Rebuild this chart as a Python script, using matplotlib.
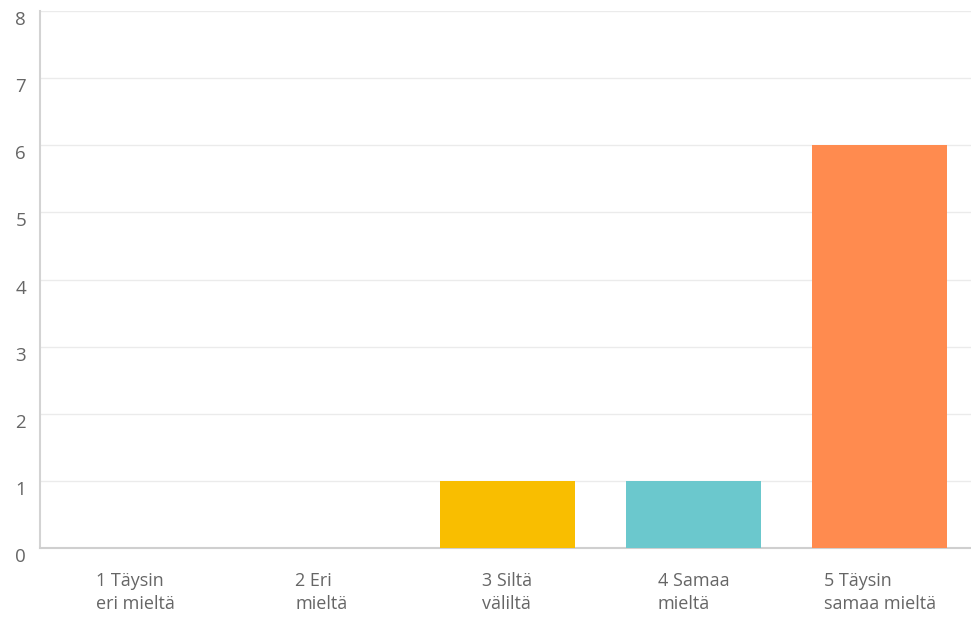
import matplotlib.pyplot as plt
import matplotlib.transforms as mtransforms

# survey answers (Likert 1-5)
categories = ["1 Täysin\neri mieltä", "2 Eri\nmieltä", "3 Siltä\nväliltä",
              "4 Samaa\nmieltä", "5 Täysin\nsamaa mieltä"]
counts = [0, 0, 1, 1, 6]
colors = ["#00BF6F", "#507CB6", "#F9BE00", "#6BC8CD", "#FF8B4F"]
yticks = [0, 1, 2, 3, 4, 5, 6, 7, 8]

plt.rcParams['font.family'] = ['Open Sans', 'DejaVu Sans']

fig = plt.figure(figsize=(9.71, 6.19), dpi=100)
ax = fig.add_axes([0.0412, 0.1147, 0.9588, 0.8675])

x = list(range(len(categories)))
ax.bar(x, counts, width=0.723, color=colors, zorder=3)

ax.set_xlim(-0.51, 4.49)
ax.set_ylim(0, 8)
ax.set_yticks(yticks)
ax.set_xticks(x)
ax.set_xticklabels(categories, fontsize=13, color="#666666",
                   multialignment="left", linespacing=1.4)
ax.tick_params(axis="x", length=0, pad=17)
ax.tick_params(axis="y", length=0, pad=10, labelsize=13.5, labelcolor="#666666")

# y labels sit a little below their gridlines
offset = mtransforms.ScaledTranslation(0, -7 / 100, fig.dpi_scale_trans)
for lab in ax.get_yticklabels():
    lab.set_transform(lab.get_transform() + offset)

ax.grid(axis="y", color="#ebebeb", linewidth=1, zorder=0)
for s in ["top", "right"]:
    ax.spines[s].set_visible(False)
ax.spines["left"].set_color("#d3d3d3")
ax.spines["left"].set_linewidth(1.5)
ax.spines["bottom"].set_color("#cfcfcf")
ax.spines["bottom"].set_linewidth(1.5)

fig.savefig("out.png", dpi=100)
